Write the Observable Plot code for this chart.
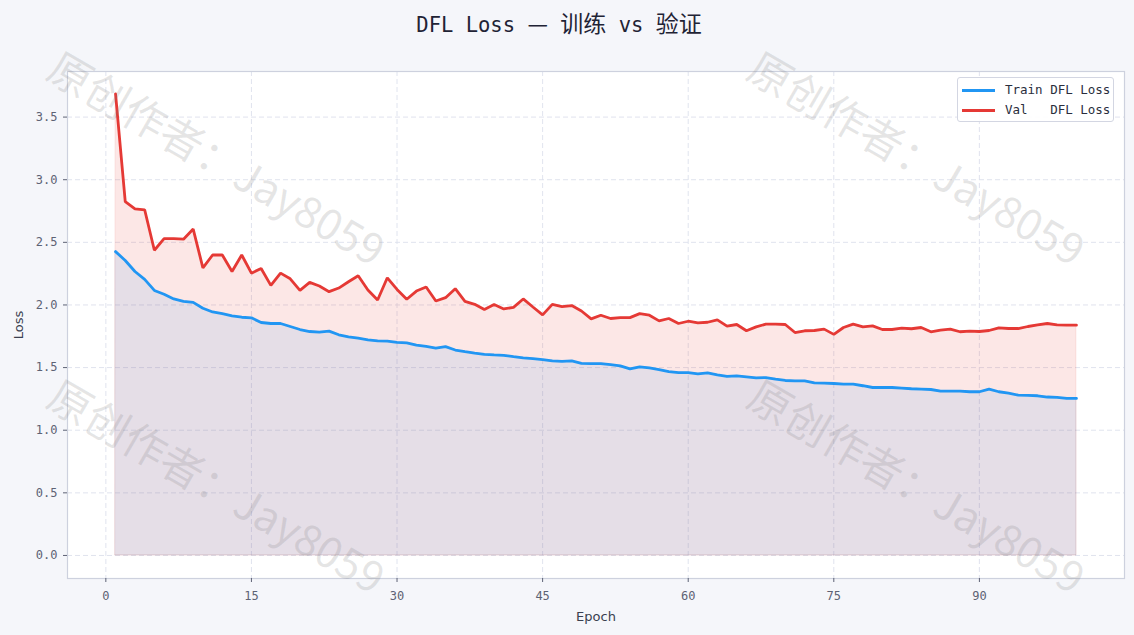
<!DOCTYPE html>
<html>
<head>
<meta charset="utf-8">
<script src="https://cdn.jsdelivr.net/npm/d3@7"></script>
<script src="https://cdn.jsdelivr.net/npm/@observablehq/plot@0.6"></script>
<style>
  html, body { margin: 0; padding: 0; background: #f5f6fa; }
  body { width: 1134px; height: 635px; position: relative; overflow: hidden; }
  #title { position: absolute; left: 0; top: 0; width: 1134px; height: 44px; line-height: 44px;
    text-align: center; box-sizing: border-box; padding-right: 16px;
    font-family: "DejaVu Sans Mono", "Noto Sans CJK SC", monospace; font-size: 20.5px; color: #1f2335; }
  #title .cjk { font-family: "Noto Sans CJK SC"; font-size: 23px; }
  #chart { position: absolute; left: 0; top: 48px; }
  #legend { position: absolute; left: 957px; top: 77px; width: 157px; height: 45px; box-sizing: border-box;
    border: 1px solid #d3d6e2; border-radius: 3px; background: rgba(255,255,255,0.9);
    font-family: "DejaVu Sans Mono", monospace; font-size: 12.5px; color: #2a2e3d; }
  #legend .row { position: absolute; left: 0; height: 20px; line-height: 20px; white-space: pre; }
  #legend .sw { position: absolute; left: 4px; top: 9px; width: 33px; height: 3px; }
  #legend .lb { position: absolute; left: 47px; top: 0; }
  #wm { position: absolute; left: 0; top: 0; width: 1134px; height: 635px; pointer-events: none; }
  #wm span { position: absolute; white-space: nowrap; font-family: "Noto Sans CJK SC", sans-serif;
    font-size: 43px; color: rgba(120,120,120,0.19); transform: translate(-50%, -50%) rotate(30deg); }
</style>
</head>
<body>
<div id="title">DFL Loss <span class="cjk">—</span> <span class="cjk">训练</span> vs <span class="cjk">验证</span></div>
<div id="chart"></div>
<div id="legend"></div>
<div id="wm"></div>
<script>
// ---- data ----
const trainLoss = [
  2.426, 2.355, 2.267, 2.204, 2.116, 2.085, 2.048, 2.029, 2.021, 1.974,
  1.944, 1.931, 1.913, 1.902, 1.897, 1.860, 1.852, 1.852, 1.828, 1.804,
  1.788, 1.783, 1.791, 1.762, 1.746, 1.735, 1.722, 1.714, 1.711, 1.701,
  1.698, 1.680, 1.669, 1.656, 1.667, 1.640, 1.627, 1.616, 1.606, 1.601,
  1.598, 1.587, 1.577, 1.571, 1.563, 1.553, 1.550, 1.553, 1.534, 1.532,
  1.532, 1.524, 1.513, 1.489, 1.505, 1.497, 1.484, 1.468, 1.460, 1.460,
  1.450, 1.458, 1.442, 1.429, 1.434, 1.426, 1.418, 1.420, 1.407, 1.397,
  1.394, 1.394, 1.378, 1.376, 1.373, 1.368, 1.368, 1.355, 1.341, 1.341,
  1.341, 1.336, 1.331, 1.328, 1.325, 1.312, 1.312, 1.312, 1.307, 1.307,
  1.328, 1.307, 1.296, 1.280, 1.278, 1.275, 1.265, 1.262, 1.254, 1.254
];
const valLoss = [
  3.685, 2.825, 2.767, 2.760, 2.437, 2.529, 2.529, 2.525, 2.606, 2.296,
  2.399, 2.399, 2.267, 2.399, 2.254, 2.291, 2.156, 2.254, 2.209, 2.116,
  2.180, 2.151, 2.106, 2.135, 2.185, 2.233, 2.119, 2.040, 2.217, 2.124,
  2.046, 2.111, 2.143, 2.032, 2.058, 2.130, 2.029, 2.005, 1.963, 2.003,
  1.968, 1.981, 2.048, 1.984, 1.921, 2.005, 1.987, 1.995, 1.952, 1.889,
  1.918, 1.892, 1.899, 1.899, 1.931, 1.918, 1.873, 1.892, 1.852, 1.870,
  1.857, 1.862, 1.881, 1.831, 1.844, 1.794, 1.825, 1.847, 1.847, 1.844,
  1.780, 1.794, 1.796, 1.807, 1.765, 1.820, 1.847, 1.825, 1.833, 1.804,
  1.804, 1.815, 1.810, 1.820, 1.786, 1.799, 1.807, 1.786, 1.791, 1.788,
  1.796, 1.817, 1.812, 1.812, 1.828, 1.841, 1.852, 1.841, 1.839, 1.839
];
const xTicks = [0, 15, 30, 45, 60, 75, 90];
const yTicks = [0, 0.5, 1.0, 1.5, 2.0, 2.5, 3.0, 3.5];
const seriesNames = ["Train DFL Loss", "Val   DFL Loss"];
const seriesColors = ["#2196F3", "#E53935"];
const watermarkText = "原创作者：Jay8059";

const train = trainLoss.map((v, i) => ({epoch: i + 1, loss: v}));
const val = valLoss.map((v, i) => ({epoch: i + 1, loss: v}));

const tickColor = "#5d6274";
const chart = Plot.plot({
  width: 1134,
  height: 587,
  marginLeft: 67,
  marginRight: 10,
  marginTop: 23,
  marginBottom: 57,
  style: {background: "transparent", fontFamily: "DejaVu Sans Mono, monospace", fontSize: "12px", color: tickColor},
  x: {domain: [-3.95, 104.95]},
  y: {domain: [-0.184, 3.864]},
  marks: [
    Plot.frame({fill: "white", stroke: null}),
    Plot.gridX(xTicks, {stroke: "#dde0ec", strokeOpacity: 1, strokeDasharray: "5,3", strokeWidth: 0.9}),
    Plot.gridY(yTicks, {stroke: "#dde0ec", strokeOpacity: 1, strokeDasharray: "5,3", strokeWidth: 0.9}),
    Plot.areaY(val, {x: "epoch", y: "loss", fill: seriesColors[1], fillOpacity: 0.12, stroke: seriesColors[1], strokeOpacity: 0.1}),
    Plot.areaY(train, {x: "epoch", y: "loss", fill: seriesColors[0], fillOpacity: 0.1, stroke: "#8a6f8a", strokeOpacity: 0.15}),
    Plot.lineY(val, {x: "epoch", y: "loss", stroke: seriesColors[1], strokeWidth: 2.8, strokeLinejoin: "miter"}),
    Plot.lineY(train, {x: "epoch", y: "loss", stroke: seriesColors[0], strokeWidth: 2.8, strokeLinejoin: "miter"}),
    Plot.frame({stroke: "#cdd1de", strokeWidth: 1.2}),
    Plot.axisX(xTicks, {tickSize: 4, tickPadding: 9, stroke: tickColor, fill: tickColor, label: "Epoch",
      labelAnchor: "center", labelArrow: "none", labelOffset: 42}),
    Plot.axisY(yTicks, {tickSize: 4, tickPadding: 6, stroke: tickColor, fill: tickColor, tickFormat: d3.format(".1f"),
      label: "Loss", labelAnchor: "center", labelArrow: "none", labelOffset: 54})
  ]
});
document.getElementById("chart").appendChild(chart);
// style the axis labels
d3.select(chart).selectAll("[aria-label='x-axis label'] text, [aria-label='y-axis label'] text")
  .style("font-family", "DejaVu Sans, sans-serif").style("font-size", "13px").attr("fill", "#3a3f4f");

// legend
const legend = d3.select("#legend");
seriesNames.forEach((name, i) => {
  const row = legend.append("div").attr("class", "row").style("top", (2 + i * 20) + "px");
  row.append("div").attr("class", "sw").style("background", seriesColors[i]);
  row.append("div").attr("class", "lb").text(name);
});

// watermark
const wmPos = [[218, 156], [918, 156], [218, 484], [918, 484]];
const wm = d3.select("#wm");
wmPos.forEach(([x, y]) => {
  wm.append("span").style("left", x + "px").style("top", y + "px").text(watermarkText);
});
</script>
</body>
</html>
